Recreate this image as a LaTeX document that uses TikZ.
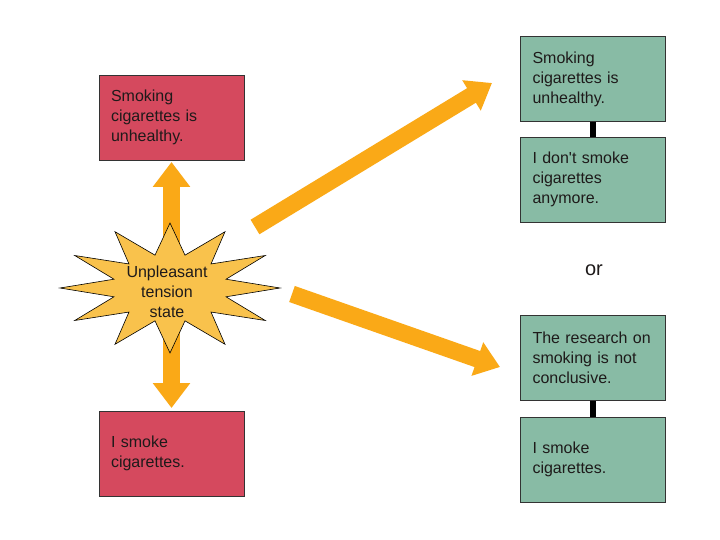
\documentclass[tikz,border=0pt]{standalone}
\usepackage{fontspec}
\setmainfont{Liberation Sans}
\usetikzlibrary{arrows.meta}
\definecolor{redbox}{HTML}{D5495E}
\definecolor{greenbox}{HTML}{88BBA5}
\definecolor{arroworange}{HTML}{FAA917}
\definecolor{starfill}{HTML}{F9C24C}
\definecolor{boxtext}{HTML}{1E1A1A}
\tikzset{
  box/.style={draw=black!80, line width=0.8pt, minimum width=145pt, minimum height=85pt,
    text width=121pt, inner xsep=12pt, align=left, text=boxtext,
    font=\fontsize{16pt}{20pt}\selectfont},
  redbx/.style={box, fill=redbox},
  greenbx/.style={box, fill=greenbox},
  bigarrow/.style={draw=arroworange, line width=17pt,
    -{Triangle[length=24pt,width=34pt]}},
  linkbar/.style={draw=black, line width=6pt},
  starshape/.style={draw=black, line width=0.6pt, fill=starfill},
}
\begin{document}
\begin{tikzpicture}[x=1pt,y=-1pt]
\useasboundingbox (0,0) rectangle (720,540);
\fill[white] (0,0) rectangle (720,540);
% left boxes
\node[redbx] (lt) at (171.5,117.5) {Smoking\\cigarettes is\\unhealthy.};
\node[redbx] (lb) at (171.5,453.5) {I smoke\\cigarettes.};
% right boxes
\node[greenbx] (r1) at (593,79) {Smoking\\cigarettes is\\unhealthy.};
\node[greenbx] (r2) at (593,179.5) {I don\textquotesingle t smoke\\cigarettes\\anymore.};
\node[greenbx] (r3) at (593,358) {The research on\\smoking is not\\conclusive.};
\node[greenbx] (r4) at (593,459.5) {I smoke\\cigarettes.};
\draw[linkbar] (r1.south) -- (r2.north);
\draw[linkbar] (r3.south) -- (r4.north);
\node[font=\fontsize{20pt}{24pt}\selectfont, text=boxtext] (or) at (594,270) {or};
% arrow end points
\coordinate (vtop) at (171.5,162);
\coordinate (vbot) at (171.5,408);
\coordinate (a1s) at (255,227);
\coordinate (a1e) at (492,83);
\coordinate (a2s) at (292,294);
\coordinate (a2e) at (500,367);
\draw[draw=arroworange, line width=17pt,
  {Triangle[length=25pt,width=36pt]}-{Triangle[length=25pt,width=36pt]}] (vtop) -- (vbot);
\draw[bigarrow] (a1s) -- (a1e);
\draw[bigarrow] (a2s) -- (a2e);
% star
\draw[starshape, shift={(170,288)}] (90:110 and 65)
  \foreach \i in {0,...,11} { -- ({105+30*\i}:58 and 34) -- ({120+30*\i}:110 and 65) } -- cycle;
\node[align=center, text=boxtext, font=\fontsize{16pt}{20pt}\selectfont] (tension) at (167,292) {Unpleasant\\tension\\state};
\end{tikzpicture}
\end{document}
